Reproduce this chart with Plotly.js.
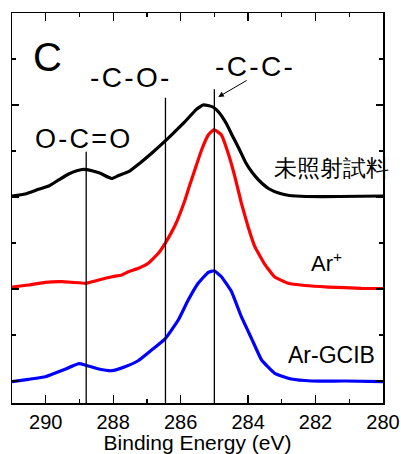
<!DOCTYPE html>
<html>
<head>
<meta charset="utf-8">
<script src="https://cdn.plot.ly/plotly-3.0.1.min.js"></script>
<style>
html,body{margin:0;padding:0;background:#fff;}
#chart{width:401px;height:454px;}
</style>
</head>
<body>
<div id="chart"></div>
<script>
// ---- Data (arbitrary intensity units) ----
const seriesNames = ["未照射試料", "Ar<sup>+</sup>", "Ar-GCIB"];

const untreatedE = [291.00, 290.61, 290.21, 289.91, 289.62, 289.32, 289.08, 288.87, 288.63, 288.38, 288.14, 288.04, 287.84, 287.54, 287.25, 286.86, 286.44, 286.17, 285.87, 285.73, 285.54, 285.34, 285.19, 285.02, 284.85, 284.65, 284.45, 284.25, 284.06, 283.86, 283.66, 283.37, 283.07, 282.78, 282.28, 281.30, 280.00];
const untreatedI = [4.022, 4.065, 4.167, 4.239, 4.370, 4.500, 4.572, 4.602, 4.572, 4.515, 4.428, 4.402, 4.467, 4.550, 4.710, 4.950, 5.230, 5.420, 5.640, 5.750, 5.900, 6.000, 5.989, 5.946, 5.826, 5.602, 5.311, 5.022, 4.733, 4.515, 4.348, 4.174, 4.080, 4.033, 4.011, 4.011, 4.022];

const arIonE = [291.00, 290.51, 290.01, 289.52, 289.22, 288.81, 288.43, 288.04, 287.75, 287.55, 287.25, 286.96, 286.66, 286.46, 286.16, 285.87, 285.73, 285.58, 285.38, 285.18, 285.01, 284.79, 284.59, 284.39, 284.20, 284.00, 283.80, 283.51, 283.21, 282.81, 282.32, 281.63, 280.64, 280.00];
const arIonI = [2.043, 2.087, 2.146, 2.159, 2.146, 2.124, 2.196, 2.267, 2.304, 2.376, 2.450, 2.559, 2.776, 2.993, 3.391, 3.935, 4.261, 4.587, 5.022, 5.348, 5.467, 5.348, 4.950, 4.435, 3.870, 3.354, 2.920, 2.543, 2.261, 2.124, 2.076, 2.043, 2.015, 2.011];

const gcibE = [291.00, 290.51, 290.01, 289.52, 289.02, 288.83, 288.43, 288.04, 287.65, 287.25, 286.86, 286.46, 286.07, 285.79, 285.48, 285.18, 285.01, 284.79, 284.49, 284.20, 283.90, 283.60, 283.21, 282.72, 282.12, 281.14, 280.00];
const gcibI = [-0.015, 0.037, 0.093, 0.228, 0.376, 0.348, 0.261, 0.224, 0.311, 0.446, 0.674, 0.917, 1.326, 1.739, 2.124, 2.363, 2.396, 2.267, 1.941, 1.398, 0.928, 0.457, 0.167, 0.043, 0.000, 0.000, -0.015];

const peakLabels = ["O-C=O", "-C-O-", "-C-C-"];
const peakEnergies = [288.8, 286.45, 285.0];
const peakLineTops = [4.985, 6.159, 6.34];

const xTickStep = 2;
const xTitle = "Binding Energy (eV)";
const panelLabel = "C";

// ---- Layout helpers (pixel -> paper) ----
const L = 12, R = 383, T = 13, B = 403;
const px = x => (x - L) / (R - L);
const py = y => (B - y) / (B - T);
const FONT = "Liberation Sans, Arial, Helvetica, sans-serif";
const HS = "\u200A"; // hair space, widens the bond labels
const spaced = s => s.split("").join(HS);

const colors = ["#000000", "#ff0000", "#0000ff"];
const xs = [untreatedE, arIonE, gcibE];
const ys = [untreatedI, arIonI, gcibI];

const traces = xs.map((x, i) => ({
  x: x, y: ys[i], type: "scatter", mode: "lines",
  name: seriesNames[i],
  line: {color: colors[i], width: 3.2, shape: "spline", smoothing: 0.35},
  hoverinfo: "skip"
}));

const shapes = peakEnergies.map((e, i) => ({
  type: "line", xref: "x", yref: "y",
  x0: e, x1: e, y0: -0.478, y1: peakLineTops[i],
  line: {color: "#000", width: 1.3}
}));

const ann = (text, x, y, size) => ({
  text: text, xref: "paper", yref: "paper", x: px(x), y: py(y),
  xanchor: "center", yanchor: "middle", showarrow: false,
  font: {family: FONT, size: size, color: "#000"}
});

const annotations = [
  ann(panelLabel, 47.5, 56.5, 40),
  ann(spaced(peakLabels[0]), 82.5, 139, 27),
  ann(spaced(peakLabels[1]), 129.5, 78, 28),
  ann(spaced(peakLabels[2]), 253.5, 66.5, 28),
  ann(seriesNames[0], 331.5, 168, 23),
  ann(seriesNames[1], 326, 262, 22),
  ann(seriesNames[2], 331, 355, 23),
  {
    text: " ", xref: "paper", yref: "paper", x: px(218.3), y: py(97),
    ax: 31.4, ay: -18.3, showarrow: true, arrowhead: 2, arrowsize: 1.1,
    arrowwidth: 1, arrowcolor: "#000"
  }
];

const layout = {
  width: 401, height: 454,
  margin: {l: L, r: 401 - R, t: T, b: 454 - B},
  paper_bgcolor: "#fff", plot_bgcolor: "#fff",
  showlegend: false,
  font: {family: FONT, color: "#000"},
  xaxis: {
    range: [291, 280], dtick: xTickStep, tick0: 280,
    ticks: "inside", ticklen: 8, tickwidth: 1.3, tickcolor: "#000",
    minor: {dtick: 1, ticks: "inside", ticklen: 4, tickwidth: 1.2, tickcolor: "#000"},
    showline: true, linecolor: "#000", linewidth: 1.5, mirror: "ticks",
    showgrid: false, zeroline: false,
    tickfont: {family: FONT, size: 20, color: "#000"},
    title: {text: xTitle, font: {family: FONT, size: 21, color: "#000"}, standoff: 7}
  },
  yaxis: {
    range: [-0.478, 8], dtick: 2, tick0: 0,
    ticks: "inside", ticklen: 7, tickwidth: 1.3, tickcolor: "#000",
    minor: {dtick: 1, ticks: "inside", ticklen: 4, tickwidth: 1.2, tickcolor: "#000"},
    showline: true, linecolor: "#000", linewidth: 1.5, mirror: "ticks",
    showgrid: false, zeroline: false, showticklabels: false
  },
  shapes: shapes,
  annotations: annotations
};

Plotly.newPlot("chart", traces, layout, {displayModeBar: false, staticPlot: true});
</script>
</body>
</html>
